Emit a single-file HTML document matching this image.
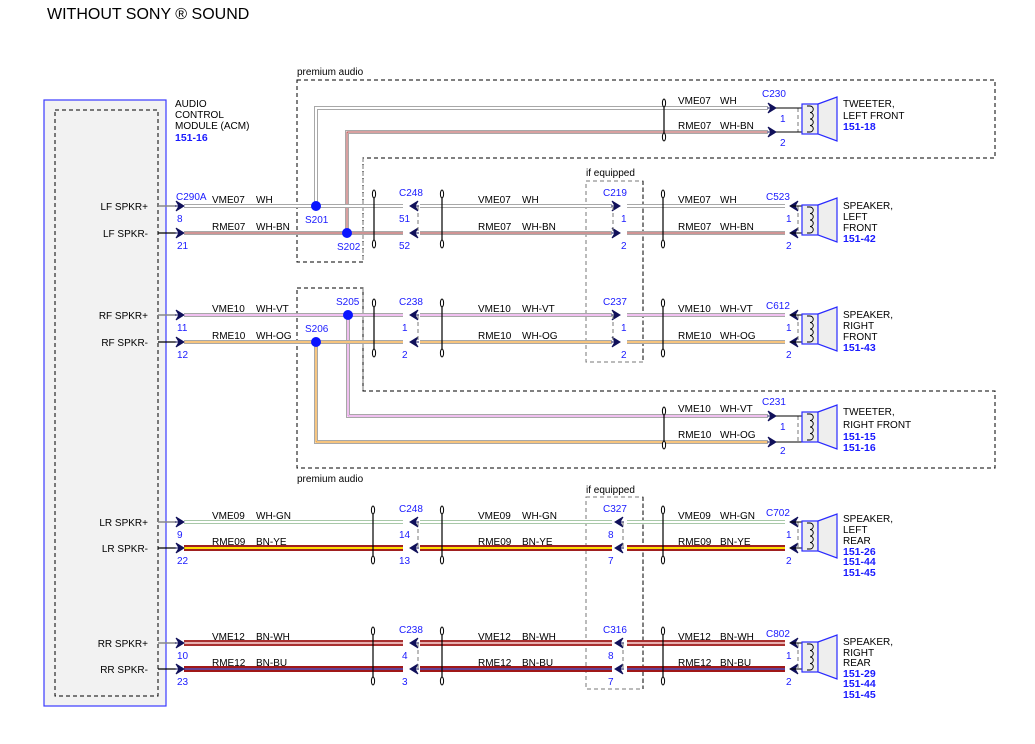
<!DOCTYPE html>
<html><head><meta charset="utf-8"><style>
html,body{margin:0;padding:0;background:#fff}
svg{display:block;font-family:"Liberation Sans",Arial,sans-serif;font-size:10px}
.b{fill:#1a1aff}.bb{fill:#1a1aff;font-weight:bold;font-size:10.5px}
.k{fill:#000}
.o{fill:none;stroke:#a8a8a8;stroke-width:4}
.w{fill:none;stroke:#fff;stroke-width:2}
.d{fill:none;stroke:#000;stroke-dasharray:4,3;stroke-width:1}
.dg{fill:none;stroke:#777;stroke-dasharray:4,3;stroke-width:1}
</style></head><body>
<svg width="1035" height="744" viewBox="0 0 1035 744" xmlns="http://www.w3.org/2000/svg">
<defs>
<path id="ar" d="M-8,-5 L0,0 L-8,5 L-5,0 Z M-9,0 H0" fill="#10105a" stroke="#10105a" stroke-width="1"/>
<path id="al" d="M8,-5 L0,0 L8,5 L5,0 Z M9,0 H0" fill="#10105a" stroke="#10105a" stroke-width="1"/>
<g id="clip"><line x1="0" y1="0" x2="0" y2="56" stroke="#000" stroke-width="1.2"/><ellipse cx="0" cy="3" rx="1.6" ry="4" fill="#fff" stroke="#000"/><ellipse cx="0" cy="53" rx="1.6" ry="4" fill="#fff" stroke="#000"/></g>
<g id="clipt"><line x1="0" y1="0" x2="0" y2="40" stroke="#000" stroke-width="1.2"/><ellipse cx="0" cy="3" rx="1.6" ry="4" fill="#fff" stroke="#000"/><ellipse cx="0" cy="37" rx="1.6" ry="4" fill="#fff" stroke="#000"/></g>
<g id="spk"><rect x="0" y="0" width="16" height="30" fill="#eee" stroke="#2a2aff" stroke-width="1.2"/><polygon points="16,0 35,-7 35,37 16,30" fill="#eee" stroke="#2a2aff" stroke-width="1.2"/><path d="M5,2 H8 a3,3 0 0 1 0,6.5 a3,3 0 0 1 0,6.5 a3,3 0 0 1 0,6.5 a3,3 0 0 1 0,6.5 H5" fill="none" stroke="#000" stroke-width="0.9"/></g>
</defs>

<text x="47" y="19" style="font-size:16px" class="k">WITHOUT SONY ® SOUND</text>

<rect x="44" y="100" width="122" height="606" fill="#f2f2f2" stroke="#3a3aff" stroke-width="1.2"/>
<rect x="55" y="110" width="103" height="586" class="d"/>
<text x="175" y="107" class="k">AUDIO</text><text x="175" y="118" class="k">CONTROL</text><text x="175" y="129" class="k">MODULE (ACM)</text><text x="175" y="141" class="bb">151-16</text>
<g text-anchor="end" class="k">
<text x="148" y="210">LF SPKR+</text><text x="148" y="237">LF SPKR-</text>
<text x="148" y="319">RF SPKR+</text><text x="148" y="346">RF SPKR-</text>
<text x="148" y="526">LR SPKR+</text><text x="148" y="552">LR SPKR-</text>
<text x="148" y="647">RR SPKR+</text><text x="148" y="673">RR SPKR-</text>
</g>
<path d="M158,206H176M158,315H176M158,522H176M158,643H176" stroke="#888" stroke-width="1.5"/>
<path d="M158,233H176M158,342H176M158,548H176M158,669H176" stroke="#000" stroke-width="1.2"/>

<path d="M297,80H995V158H363V262H297Z" class="d"/>
<path d="M297,288H363V391H995V468H297Z" class="d"/>
<text x="297" y="75" class="k">premium audio</text><text x="297" y="482" class="k">premium audio</text>
<path d="M363,158V262M363,288V391" class="dg"/>
<rect x="586" y="181" width="57" height="181" class="dg"/><line x1="643" y1="181" x2="643" y2="362" class="d"/>
<rect x="586" y="497" width="57" height="192" class="dg"/><line x1="643" y1="497" x2="643" y2="689" class="d"/>
<text x="586" y="176" class="k">if equipped</text><text x="586" y="493" class="k">if equipped</text>

<path d="M316,206V108H768" class="o"/><path d="M316,206V108H768" class="w"/>
<path d="M347,233V132H768" class="o"/><path d="M347,233V132H768" class="w"/><path d="M347,233V132H768" fill="none" stroke="#b04040" stroke-width="1"/>
<path d="M348,315V416H768" class="o"/><path d="M348,315V416H768" class="w"/><path d="M348,315V416H768" fill="none" stroke="#e080e0" stroke-width="1"/>
<path d="M316,342V442H768" class="o"/><path d="M316,342V442H768" class="w"/><path d="M316,342V442H768" fill="none" stroke="#f0a030" stroke-width="1.2"/>

<path d="M184,206H403M420,206H612M627,206H785" class="o"/><path d="M184,206H403M420,206H612M627,206H785" class="w"/>
<path d="M184,233H403M420,233H612M627,233H785" class="o"/><path d="M184,233H403M420,233H612M627,233H785" class="w"/><path d="M184,233H403M420,233H612M627,233H785" stroke="#a02828" stroke-width="1"/>
<path d="M184,315H403M420,315H612M627,315H785" class="o"/><path d="M184,315H403M420,315H612M627,315H785" class="w"/><path d="M184,315H403M420,315H612M627,315H785" stroke="#e080e0" stroke-width="1"/>
<path d="M184,342H403M420,342H612M627,342H785" class="o"/><path d="M184,342H403M420,342H612M627,342H785" class="w"/><path d="M184,342H403M420,342H612M627,342H785" stroke="#f0a030" stroke-width="1.2"/>
<path d="M184,522H403M420,522H612M627,522H785" stroke="#a8c8a8" stroke-width="4"/><path d="M184,522H403M420,522H612M627,522H785" class="w"/>
<path d="M184,548H403M420,548H612M627,548H785" stroke="#a02020" stroke-width="6"/><path d="M184,548H403M420,548H612M627,548H785" stroke="#ffe000" stroke-width="2"/>
<path d="M184,643H403M420,643H612M627,643H785" stroke="#a83030" stroke-width="6"/><path d="M184,643H403M420,643H612M627,643H785" stroke="#e8b0b0" stroke-width="2"/>
<path d="M184,669H403M420,669H612M627,669H785" stroke="#a01818" stroke-width="6"/><path d="M184,669H403M420,669H612M627,669H785" stroke="#5050c0" stroke-width="1.5"/>

<g fill="#0a14ff"><circle cx="316" cy="206" r="5"/><circle cx="347" cy="233" r="5"/><circle cx="348" cy="315" r="5"/><circle cx="316" cy="342" r="5"/></g>
<text x="305" y="223" class="b">S201</text><text x="337" y="250" class="b">S202</text>
<text x="336" y="305" class="b">S205</text><text x="305" y="332" class="b">S206</text>

<g>
<use href="#ar" x="184" y="206"/><use href="#ar" x="184" y="233"/><use href="#ar" x="184" y="315"/><use href="#ar" x="184" y="342"/>
<use href="#ar" x="184" y="522"/><use href="#ar" x="184" y="548"/><use href="#ar" x="184" y="643"/><use href="#ar" x="184" y="669"/>
<use href="#al" x="410" y="206"/><use href="#al" x="410" y="233"/><use href="#al" x="410" y="315"/><use href="#al" x="410" y="342"/>
<use href="#al" x="410" y="522"/><use href="#al" x="410" y="548"/><use href="#al" x="410" y="643"/><use href="#al" x="410" y="669"/>
<use href="#ar" x="620" y="206"/><use href="#ar" x="620" y="233"/><use href="#ar" x="620" y="315"/><use href="#ar" x="620" y="342"/>
<use href="#al" x="615" y="522"/><use href="#al" x="615" y="548"/><use href="#al" x="615" y="643"/><use href="#al" x="615" y="669"/>
<use href="#al" x="790" y="206"/><use href="#al" x="790" y="233"/><use href="#al" x="790" y="315"/><use href="#al" x="790" y="342"/>
<use href="#al" x="790" y="522"/><use href="#al" x="790" y="548"/><use href="#al" x="790" y="643"/><use href="#al" x="790" y="669"/>
<use href="#ar" x="776" y="108"/><use href="#ar" x="776" y="132"/><use href="#ar" x="776" y="416"/><use href="#ar" x="776" y="442"/>
</g>
<path d="M418,206V233M418,315V342M418,522V548M418,643V669M613,206V233M613,315V342M623,522V548M623,643V669M798,206V233M798,315V342M798,522V548M798,643V669M798,108V132M798,416V442" class="dg"/>

<use href="#clip" x="374" y="191"/><use href="#clip" x="442" y="191"/><use href="#clip" x="663" y="191"/>
<use href="#clip" x="374" y="300"/><use href="#clip" x="442" y="300"/><use href="#clip" x="663" y="300"/>
<use href="#clip" x="373" y="507"/><use href="#clip" x="442" y="507"/><use href="#clip" x="663" y="507"/>
<use href="#clip" x="373" y="628"/><use href="#clip" x="442" y="628"/><use href="#clip" x="663" y="628"/>
<use href="#clipt" x="664" y="100"/><use href="#clipt" x="664" y="408"/>

<path d="M790,206H808M790,233H808M790,315H808M790,342H808M790,522H808M790,548H808M790,643H808M790,669H808M776,108H808M776,132H808M776,416H808M776,442H808" stroke="#000" stroke-width="1"/>
<use href="#spk" x="802" y="205"/><use href="#spk" x="802" y="314"/><use href="#spk" x="802" y="521"/><use href="#spk" x="802" y="642"/>
<use href="#spk" x="802" y="104"/><use href="#spk" x="802" y="412"/>

<g class="b">
<text x="176" y="200">C290A</text><text x="177" y="222">8</text><text x="177" y="249">21</text>
<text x="177" y="331">11</text><text x="177" y="358">12</text>
<text x="177" y="538">9</text><text x="177" y="564">22</text>
<text x="177" y="659">10</text><text x="177" y="685">23</text>
<text x="399" y="196">C248</text><text x="399" y="222">51</text><text x="399" y="249">52</text>
<text x="399" y="305">C238</text><text x="402" y="331">1</text><text x="402" y="358">2</text>
<text x="399" y="512">C248</text><text x="399" y="538">14</text><text x="399" y="564">13</text>
<text x="399" y="633">C238</text><text x="402" y="659">4</text><text x="402" y="685">3</text>
<text x="603" y="196">C219</text><text x="621" y="222">1</text><text x="621" y="249">2</text>
<text x="603" y="305">C237</text><text x="621" y="331">1</text><text x="621" y="358">2</text>
<text x="603" y="512">C327</text><text x="608" y="538">8</text><text x="608" y="564">7</text>
<text x="603" y="633">C316</text><text x="608" y="659">8</text><text x="608" y="685">7</text>
<text x="766" y="200">C523</text><text x="786" y="222">1</text><text x="786" y="249">2</text>
<text x="766" y="309">C612</text><text x="786" y="331">1</text><text x="786" y="358">2</text>
<text x="766" y="516">C702</text><text x="786" y="538">1</text><text x="786" y="564">2</text>
<text x="766" y="637">C802</text><text x="786" y="659">1</text><text x="786" y="685">2</text>
<text x="762" y="97">C230</text><text x="780" y="122">1</text><text x="780" y="146">2</text>
<text x="762" y="405">C231</text><text x="780" y="430">1</text><text x="780" y="454">2</text>
</g>
<g class="k">
<text x="212" y="203">VME07</text><text x="256" y="203">WH</text><text x="478" y="203">VME07</text><text x="522" y="203">WH</text><text x="678" y="203">VME07</text><text x="720" y="203">WH</text>
<text x="212" y="230">RME07</text><text x="256" y="230">WH-BN</text><text x="478" y="230">RME07</text><text x="522" y="230">WH-BN</text><text x="678" y="230">RME07</text><text x="720" y="230">WH-BN</text>
<text x="212" y="312">VME10</text><text x="256" y="312">WH-VT</text><text x="478" y="312">VME10</text><text x="522" y="312">WH-VT</text><text x="678" y="312">VME10</text><text x="720" y="312">WH-VT</text>
<text x="212" y="339">RME10</text><text x="256" y="339">WH-OG</text><text x="478" y="339">RME10</text><text x="522" y="339">WH-OG</text><text x="678" y="339">RME10</text><text x="720" y="339">WH-OG</text>
<text x="212" y="519">VME09</text><text x="256" y="519">WH-GN</text><text x="478" y="519">VME09</text><text x="522" y="519">WH-GN</text><text x="678" y="519">VME09</text><text x="720" y="519">WH-GN</text>
<text x="212" y="545">RME09</text><text x="256" y="545">BN-YE</text><text x="478" y="545">RME09</text><text x="522" y="545">BN-YE</text><text x="678" y="545">RME09</text><text x="720" y="545">BN-YE</text>
<text x="212" y="640">VME12</text><text x="256" y="640">BN-WH</text><text x="478" y="640">VME12</text><text x="522" y="640">BN-WH</text><text x="678" y="640">VME12</text><text x="720" y="640">BN-WH</text>
<text x="212" y="666">RME12</text><text x="256" y="666">BN-BU</text><text x="478" y="666">RME12</text><text x="522" y="666">BN-BU</text><text x="678" y="666">RME12</text><text x="720" y="666">BN-BU</text>
<text x="678" y="104">VME07</text><text x="720" y="104">WH</text><text x="678" y="129">RME07</text><text x="720" y="129">WH-BN</text>
<text x="678" y="412">VME10</text><text x="720" y="412">WH-VT</text><text x="678" y="438">RME10</text><text x="720" y="438">WH-OG</text>
</g>
<g class="k">
<text x="843" y="107">TWEETER,</text><text x="843" y="119">LEFT FRONT</text>
<text x="843" y="209">SPEAKER,</text><text x="843" y="220">LEFT</text><text x="843" y="231">FRONT</text>
<text x="843" y="318">SPEAKER,</text><text x="843" y="329">RIGHT</text><text x="843" y="340">FRONT</text>
<text x="843" y="415">TWEETER,</text><text x="843" y="428">RIGHT FRONT</text>
<text x="843" y="522">SPEAKER,</text><text x="843" y="533">LEFT</text><text x="843" y="544">REAR</text>
<text x="843" y="645">SPEAKER,</text><text x="843" y="656">RIGHT</text><text x="843" y="666">REAR</text>
</g>
<g class="bb">
<text x="843" y="130">151-18</text><text x="843" y="242">151-42</text><text x="843" y="351">151-43</text>
<text x="843" y="440">151-15</text><text x="843" y="451">151-16</text>
<text x="843" y="555">151-26</text><text x="843" y="565">151-44</text><text x="843" y="576">151-45</text>
<text x="843" y="677">151-29</text><text x="843" y="687">151-44</text><text x="843" y="698">151-45</text>
</g>
</svg>
</body></html>
